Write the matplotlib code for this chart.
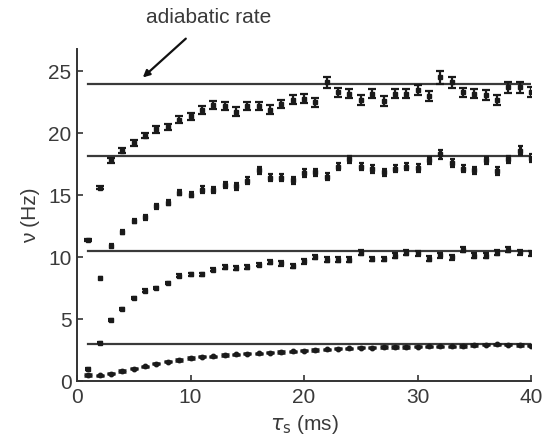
import numpy as np
import matplotlib.pyplot as plt

plt.rcParams['font.family'] = ['Liberation Sans', 'DejaVu Sans']

# firing rate vs synaptic time constant, four input levels
tau = np.arange(1, 41)

rate_a = [11.4, 15.6, 17.8, 18.6, 19.2, 19.8, 20.3, 20.5, 21.1, 21.35,
          21.9, 22.3, 22.2, 21.75, 22.2, 22.2, 21.9, 22.35, 22.7, 22.8,
          22.5, 24.1, 23.3, 23.2, 22.7, 23.2, 22.6, 23.2, 23.2, 23.5,
          23.0, 24.5, 24.1, 23.3, 23.2, 23.1, 22.7, 23.7, 23.7, 23.3]
err_a = [0.08, 0.12, 0.2, 0.2, 0.22, 0.22, 0.25, 0.25, 0.3, 0.3,
         0.32, 0.32, 0.32, 0.35, 0.32, 0.32, 0.35, 0.35, 0.35, 0.35,
         0.38, 0.45, 0.38, 0.35, 0.4, 0.35, 0.4, 0.38, 0.38, 0.38,
         0.4, 0.5, 0.45, 0.38, 0.35, 0.4, 0.42, 0.45, 0.45, 0.4]

rate_b = [np.nan, 8.3, 10.9, 12.0, 12.9, 13.2, 14.1, 14.4, 15.2, 15.05,
          15.45, 15.4, 15.8, 15.7, 16.15, 17.0, 16.4, 16.4, 16.2, 16.8,
          16.85, 16.5, 17.3, 17.9, 17.3, 17.1, 16.85, 17.15, 17.3, 17.2,
          17.8, 18.3, 17.6, 17.15, 17.0, 17.8, 16.95, 17.9, 18.6, 18.0]
err_b = [0.0, 0.1, 0.12, 0.15, 0.18, 0.2, 0.2, 0.2, 0.22, 0.22,
         0.25, 0.25, 0.25, 0.25, 0.28, 0.28, 0.28, 0.28, 0.28, 0.3,
         0.3, 0.3, 0.3, 0.3, 0.3, 0.3, 0.3, 0.3, 0.3, 0.3,
         0.32, 0.35, 0.32, 0.3, 0.3, 0.32, 0.32, 0.3, 0.38, 0.32]

rate_c = [0.97, 3.1, 4.9, 5.8, 6.7, 7.3, 7.5, 7.9, 8.5, 8.6,
          8.6, 9.0, 9.2, 9.1, 9.2, 9.4, 9.6, 9.5, 9.3, 9.65,
          10.0, 9.8, 9.8, 9.8, 10.35, 9.85, 9.85, 10.1, 10.35, 10.3,
          9.85, 10.15, 10.0, 10.6, 10.1, 10.1, 10.35, 10.6, 10.4, 10.3]
err_c = [0.05, 0.06, 0.08, 0.08, 0.08, 0.1, 0.1, 0.1, 0.12, 0.12,
         0.12, 0.15, 0.15, 0.15, 0.15, 0.15, 0.18, 0.18, 0.18, 0.18,
         0.18, 0.18, 0.18, 0.18, 0.2, 0.18, 0.18, 0.2, 0.2, 0.2,
         0.2, 0.2, 0.2, 0.22, 0.2, 0.2, 0.2, 0.22, 0.2, 0.2]

rate_d = [0.48, 0.45, 0.6, 0.8, 1.0, 1.2, 1.4, 1.55, 1.7, 1.85,
          1.95, 2.0, 2.1, 2.15, 2.2, 2.25, 2.3, 2.35, 2.4, 2.45,
          2.5, 2.55, 2.6, 2.65, 2.7, 2.7, 2.75, 2.75, 2.75, 2.78,
          2.8, 2.8, 2.8, 2.82, 2.9, 2.92, 2.95, 2.92, 2.9, 2.85]
err_d = [0.05] * 40

adiabatic = [24.0, 18.2, 10.5, 3.0]

fig, ax = plt.subplots(figsize=(5.42, 4.41), dpi=100)
fig.subplots_adjust(left=0.142, right=0.980, bottom=0.136, top=0.889)

dark = '#1a1a1a'
for level in adiabatic:
    ax.plot([1, 40], [level, level], color='#3a3a3a', lw=1.6, zorder=1)

ax.errorbar(tau, rate_a, yerr=err_a, fmt='s', ms=2.5, color=dark,
            ecolor=dark, elinewidth=1.6, capsize=2.8, capthick=1.6, zorder=3)
ax.errorbar(tau, rate_b, yerr=err_b, fmt='s', ms=2.5, color=dark,
            ecolor=dark, elinewidth=2.2, capsize=1.8, capthick=1.6, zorder=3)
ax.errorbar(tau, rate_c, yerr=err_c, fmt='s', ms=2.5, color=dark,
            ecolor=dark, elinewidth=1.6, capsize=2.5, capthick=1.6, zorder=3)
ax.errorbar(tau, rate_d, yerr=err_d, fmt='o', ms=3.2, color=dark,
            ecolor=dark, elinewidth=1.4, capsize=3.0, capthick=1.8, zorder=3)

ax.set_xlim(0, 40)
ax.set_ylim(0, 26.8)
ax.set_xticks([0, 10, 20, 30, 40])
ax.set_yticks([0, 5, 10, 15, 20, 25])
ax.spines['top'].set_visible(False)
ax.spines['right'].set_visible(False)
for s in ('left', 'bottom'):
    ax.spines[s].set_linewidth(1.4)
    ax.spines[s].set_color('#333333')
ax.tick_params(direction='in', length=4, width=1.2, colors='#333333',
               labelsize=15, labelcolor='#3a3a3a')
ax.tick_params(axis='x', pad=5)
ax.tick_params(axis='y', pad=4)

ax.set_xlabel(r'$\tau_\mathrm{s}$ (ms)', fontsize=15, color='#3a3a3a', labelpad=4)
ax.set_ylabel('ν (Hz)', fontsize=15, color='#3a3a3a', labelpad=6)

ax.annotate('adiabatic rate', xy=(5.8, 24.5), xytext=(11.6, 29.3),
            ha='center', va='center', fontsize=15, color='#3a3a3a',
            annotation_clip=False,
            arrowprops=dict(arrowstyle='-|>', color='#111111', lw=1.6,
                            shrinkA=9, shrinkB=0, mutation_scale=10))

plt.savefig('out.png', dpi=100)
